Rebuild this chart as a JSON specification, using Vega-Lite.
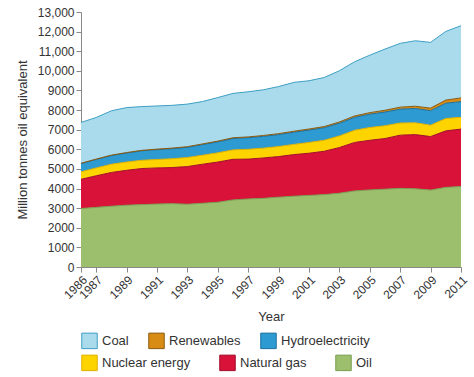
{
  "$schema": "https://vega.github.io/schema/vega-lite/v6.json",
  "width": 380,
  "height": 255,
  "autosize": {"type": "none"},
  "padding": {"left": 81, "top": 12, "right": 13, "bottom": 110},
  "background": "white",
  "config": {
    "font": "Liberation Sans",
    "view": {"stroke": null},
    "axis": {"labelColor": "#333", "titleColor": "#333", "domainColor": "#888", "tickColor": "#888", "grid": false, "labelFontSize": 12, "titleFontSize": 13, "titleFontWeight": "normal"}
  },
  "data": {"values": [
    {"year":1986,"source":"Oil","value":2980,"order":1},{"year":1987,"source":"Oil","value":3040,"order":1},{"year":1988,"source":"Oil","value":3100,"order":1},{"year":1989,"source":"Oil","value":3150,"order":1},{"year":1990,"source":"Oil","value":3180,"order":1},{"year":1991,"source":"Oil","value":3210,"order":1},{"year":1992,"source":"Oil","value":3230,"order":1},{"year":1993,"source":"Oil","value":3200,"order":1},{"year":1994,"source":"Oil","value":3250,"order":1},{"year":1995,"source":"Oil","value":3300,"order":1},{"year":1996,"source":"Oil","value":3420,"order":1},{"year":1997,"source":"Oil","value":3470,"order":1},{"year":1998,"source":"Oil","value":3500,"order":1},{"year":1999,"source":"Oil","value":3560,"order":1},{"year":2000,"source":"Oil","value":3610,"order":1},{"year":2001,"source":"Oil","value":3650,"order":1},{"year":2002,"source":"Oil","value":3690,"order":1},{"year":2003,"source":"Oil","value":3760,"order":1},{"year":2004,"source":"Oil","value":3880,"order":1},{"year":2005,"source":"Oil","value":3930,"order":1},{"year":2006,"source":"Oil","value":3970,"order":1},{"year":2007,"source":"Oil","value":4010,"order":1},{"year":2008,"source":"Oil","value":3990,"order":1},{"year":2009,"source":"Oil","value":3920,"order":1},{"year":2010,"source":"Oil","value":4060,"order":1},{"year":2011,"source":"Oil","value":4100,"order":1},
    {"year":1986,"source":"Natural gas","value":1490,"order":2},{"year":1987,"source":"Natural gas","value":1610,"order":2},{"year":1988,"source":"Natural gas","value":1720,"order":2},{"year":1989,"source":"Natural gas","value":1780,"order":2},{"year":1990,"source":"Natural gas","value":1840,"order":2},{"year":1991,"source":"Natural gas","value":1840,"order":2},{"year":1992,"source":"Natural gas","value":1840,"order":2},{"year":1993,"source":"Natural gas","value":1920,"order":2},{"year":1994,"source":"Natural gas","value":1990,"order":2},{"year":1995,"source":"Natural gas","value":2050,"order":2},{"year":1996,"source":"Natural gas","value":2070,"order":2},{"year":1997,"source":"Natural gas","value":2030,"order":2},{"year":1998,"source":"Natural gas","value":2060,"order":2},{"year":1999,"source":"Natural gas","value":2070,"order":2},{"year":2000,"source":"Natural gas","value":2120,"order":2},{"year":2001,"source":"Natural gas","value":2150,"order":2},{"year":2002,"source":"Natural gas","value":2210,"order":2},{"year":2003,"source":"Natural gas","value":2330,"order":2},{"year":2004,"source":"Natural gas","value":2470,"order":2},{"year":2005,"source":"Natural gas","value":2530,"order":2},{"year":2006,"source":"Natural gas","value":2580,"order":2},{"year":2007,"source":"Natural gas","value":2710,"order":2},{"year":2008,"source":"Natural gas","value":2760,"order":2},{"year":2009,"source":"Natural gas","value":2730,"order":2},{"year":2010,"source":"Natural gas","value":2880,"order":2},{"year":2011,"source":"Natural gas","value":2930,"order":2},
    {"year":1986,"source":"Nuclear energy","value":380,"order":3},{"year":1987,"source":"Nuclear energy","value":400,"order":3},{"year":1988,"source":"Nuclear energy","value":420,"order":3},{"year":1989,"source":"Nuclear energy","value":420,"order":3},{"year":1990,"source":"Nuclear energy","value":420,"order":3},{"year":1991,"source":"Nuclear energy","value":430,"order":3},{"year":1992,"source":"Nuclear energy","value":450,"order":3},{"year":1993,"source":"Nuclear energy","value":460,"order":3},{"year":1994,"source":"Nuclear energy","value":460,"order":3},{"year":1995,"source":"Nuclear energy","value":470,"order":3},{"year":1996,"source":"Nuclear energy","value":480,"order":3},{"year":1997,"source":"Nuclear energy","value":500,"order":3},{"year":1998,"source":"Nuclear energy","value":500,"order":3},{"year":1999,"source":"Nuclear energy","value":510,"order":3},{"year":2000,"source":"Nuclear energy","value":520,"order":3},{"year":2001,"source":"Nuclear energy","value":550,"order":3},{"year":2002,"source":"Nuclear energy","value":560,"order":3},{"year":2003,"source":"Nuclear energy","value":590,"order":3},{"year":2004,"source":"Nuclear energy","value":620,"order":3},{"year":2005,"source":"Nuclear energy","value":650,"order":3},{"year":2006,"source":"Nuclear energy","value":650,"order":3},{"year":2007,"source":"Nuclear energy","value":620,"order":3},{"year":2008,"source":"Nuclear energy","value":600,"order":3},{"year":2009,"source":"Nuclear energy","value":580,"order":3},{"year":2010,"source":"Nuclear energy","value":630,"order":3},{"year":2011,"source":"Nuclear energy","value":600,"order":3},
    {"year":1986,"source":"Hydroelectricity","value":420,"order":4},{"year":1987,"source":"Hydroelectricity","value":430,"order":4},{"year":1988,"source":"Hydroelectricity","value":440,"order":4},{"year":1989,"source":"Hydroelectricity","value":460,"order":4},{"year":1990,"source":"Hydroelectricity","value":480,"order":4},{"year":1991,"source":"Hydroelectricity","value":500,"order":4},{"year":1992,"source":"Hydroelectricity","value":510,"order":4},{"year":1993,"source":"Hydroelectricity","value":520,"order":4},{"year":1994,"source":"Hydroelectricity","value":540,"order":4},{"year":1995,"source":"Hydroelectricity","value":560,"order":4},{"year":1996,"source":"Hydroelectricity","value":580,"order":4},{"year":1997,"source":"Hydroelectricity","value":590,"order":4},{"year":1998,"source":"Hydroelectricity","value":600,"order":4},{"year":1999,"source":"Hydroelectricity","value":610,"order":4},{"year":2000,"source":"Hydroelectricity","value":620,"order":4},{"year":2001,"source":"Hydroelectricity","value":630,"order":4},{"year":2002,"source":"Hydroelectricity","value":640,"order":4},{"year":2003,"source":"Hydroelectricity","value":650,"order":4},{"year":2004,"source":"Hydroelectricity","value":660,"order":4},{"year":2005,"source":"Hydroelectricity","value":680,"order":4},{"year":2006,"source":"Hydroelectricity","value":700,"order":4},{"year":2007,"source":"Hydroelectricity","value":710,"order":4},{"year":2008,"source":"Hydroelectricity","value":730,"order":4},{"year":2009,"source":"Hydroelectricity","value":740,"order":4},{"year":2010,"source":"Hydroelectricity","value":780,"order":4},{"year":2011,"source":"Hydroelectricity","value":800,"order":4},
    {"year":1986,"source":"Renewables","value":20,"order":5},{"year":1987,"source":"Renewables","value":22,"order":5},{"year":1988,"source":"Renewables","value":24,"order":5},{"year":1989,"source":"Renewables","value":26,"order":5},{"year":1990,"source":"Renewables","value":28,"order":5},{"year":1991,"source":"Renewables","value":30,"order":5},{"year":1992,"source":"Renewables","value":32,"order":5},{"year":1993,"source":"Renewables","value":34,"order":5},{"year":1994,"source":"Renewables","value":36,"order":5},{"year":1995,"source":"Renewables","value":38,"order":5},{"year":1996,"source":"Renewables","value":40,"order":5},{"year":1997,"source":"Renewables","value":42,"order":5},{"year":1998,"source":"Renewables","value":45,"order":5},{"year":1999,"source":"Renewables","value":48,"order":5},{"year":2000,"source":"Renewables","value":52,"order":5},{"year":2001,"source":"Renewables","value":55,"order":5},{"year":2002,"source":"Renewables","value":60,"order":5},{"year":2003,"source":"Renewables","value":65,"order":5},{"year":2004,"source":"Renewables","value":72,"order":5},{"year":2005,"source":"Renewables","value":80,"order":5},{"year":2006,"source":"Renewables","value":90,"order":5},{"year":2007,"source":"Renewables","value":100,"order":5},{"year":2008,"source":"Renewables","value":115,"order":5},{"year":2009,"source":"Renewables","value":130,"order":5},{"year":2010,"source":"Renewables","value":160,"order":5},{"year":2011,"source":"Renewables","value":190,"order":5},
    {"year":1986,"source":"Coal","value":2080,"order":6},{"year":1987,"source":"Coal","value":2120,"order":6},{"year":1988,"source":"Coal","value":2260,"order":6},{"year":1989,"source":"Coal","value":2290,"order":6},{"year":1990,"source":"Coal","value":2230,"order":6},{"year":1991,"source":"Coal","value":2200,"order":6},{"year":1992,"source":"Coal","value":2180,"order":6},{"year":1993,"source":"Coal","value":2170,"order":6},{"year":1994,"source":"Coal","value":2160,"order":6},{"year":1995,"source":"Coal","value":2220,"order":6},{"year":1996,"source":"Coal","value":2260,"order":6},{"year":1997,"source":"Coal","value":2300,"order":6},{"year":1998,"source":"Coal","value":2330,"order":6},{"year":1999,"source":"Coal","value":2400,"order":6},{"year":2000,"source":"Coal","value":2490,"order":6},{"year":2001,"source":"Coal","value":2460,"order":6},{"year":2002,"source":"Coal","value":2500,"order":6},{"year":2003,"source":"Coal","value":2610,"order":6},{"year":2004,"source":"Coal","value":2760,"order":6},{"year":2005,"source":"Coal","value":2930,"order":6},{"year":2006,"source":"Coal","value":3120,"order":6},{"year":2007,"source":"Coal","value":3250,"order":6},{"year":2008,"source":"Coal","value":3340,"order":6},{"year":2009,"source":"Coal","value":3350,"order":6},{"year":2010,"source":"Coal","value":3500,"order":6},{"year":2011,"source":"Coal","value":3680,"order":6}
  ]},
  "encoding": {
    "x": {"field": "year", "type": "quantitative",
      "scale": {"domain": [1986, 2011], "nice": false, "zero": false},
      "axis": {"title": "Year", "values": [1986,1987,1989,1991,1993,1995,1997,1999,2001,2003,2005,2007,2009,2011], "format": "d", "labelAngle": -45, "labelAlign": "right", "labelBaseline": "top", "labelOverlap": false, "titlePadding": 10, "tickSize": 5}},
    "y": {"field": "value", "type": "quantitative", "stack": "zero", "aggregate": "sum",
      "scale": {"domain": [0, 13000], "nice": false},
      "axis": {"title": "Million tonnes oil equivalent", "values": [0,1000,2000,3000,4000,5000,6000,7000,8000,9000,10000,11000,12000,13000], "labelExpr": "datum.value >= 10000 ? format(datum.value, ',') : format(datum.value, 'd')", "labelOverlap": false, "titlePadding": 8, "tickSize": 5}},
    "order": {"field": "order", "type": "quantitative", "sort": "ascending"}
  },
  "layer": [
    {
      "mark": {"type": "area", "opacity": 1},
      "encoding": {
        "color": {"field": "source", "type": "nominal",
          "scale": {"domain": ["Coal","Renewables","Hydroelectricity","Nuclear energy","Natural gas","Oil"], "range": ["#a9dbec","#d88c14","#2d9bd2","#fdd400","#d9123a","#9cbf6e"]},
          "legend": {"title": null, "values": ["Coal","Renewables","Hydroelectricity"], "orient": "none", "legendX": 0, "legendY": 320, "direction": "horizontal", "symbolType": "square", "symbolSize": 240, "symbolStrokeWidth": 1, "labelFontSize": 13, "labelColor": "#333", "columnPadding": 17, "symbolOpacity": 1,
            "encode": {"symbols": {"update": {"stroke": {"scale": "stroke", "field": "value"}, "strokeWidth": {"value": 1}}}}}}
      }
    },
    {
      "mark": {"type": "line", "strokeWidth": 1},
      "encoding": {
        "stroke": {"field": "source", "type": "nominal",
          "scale": {"domain": ["Oil","Natural gas","Nuclear energy","Hydroelectricity","Renewables","Coal"], "range": ["#7a9e50","#a00c28","#e0b000","#1a6f9e","#8a5a10","#3d9fc4"]},
          "legend": {"title": null, "values": ["Nuclear energy","Natural gas","Oil"], "orient": "none", "legendX": 0, "legendY": 342, "direction": "horizontal", "symbolType": "square", "symbolSize": 240, "symbolStrokeWidth": 1, "labelFontSize": 13, "labelColor": "#333", "columnPadding": 26, "symbolOpacity": 1,
            "encode": {"symbols": {"update": {"fill": {"scale": "color", "field": "value"}, "fillOpacity": {"value": 1}}}}}}
      }
    }
  ]
}
